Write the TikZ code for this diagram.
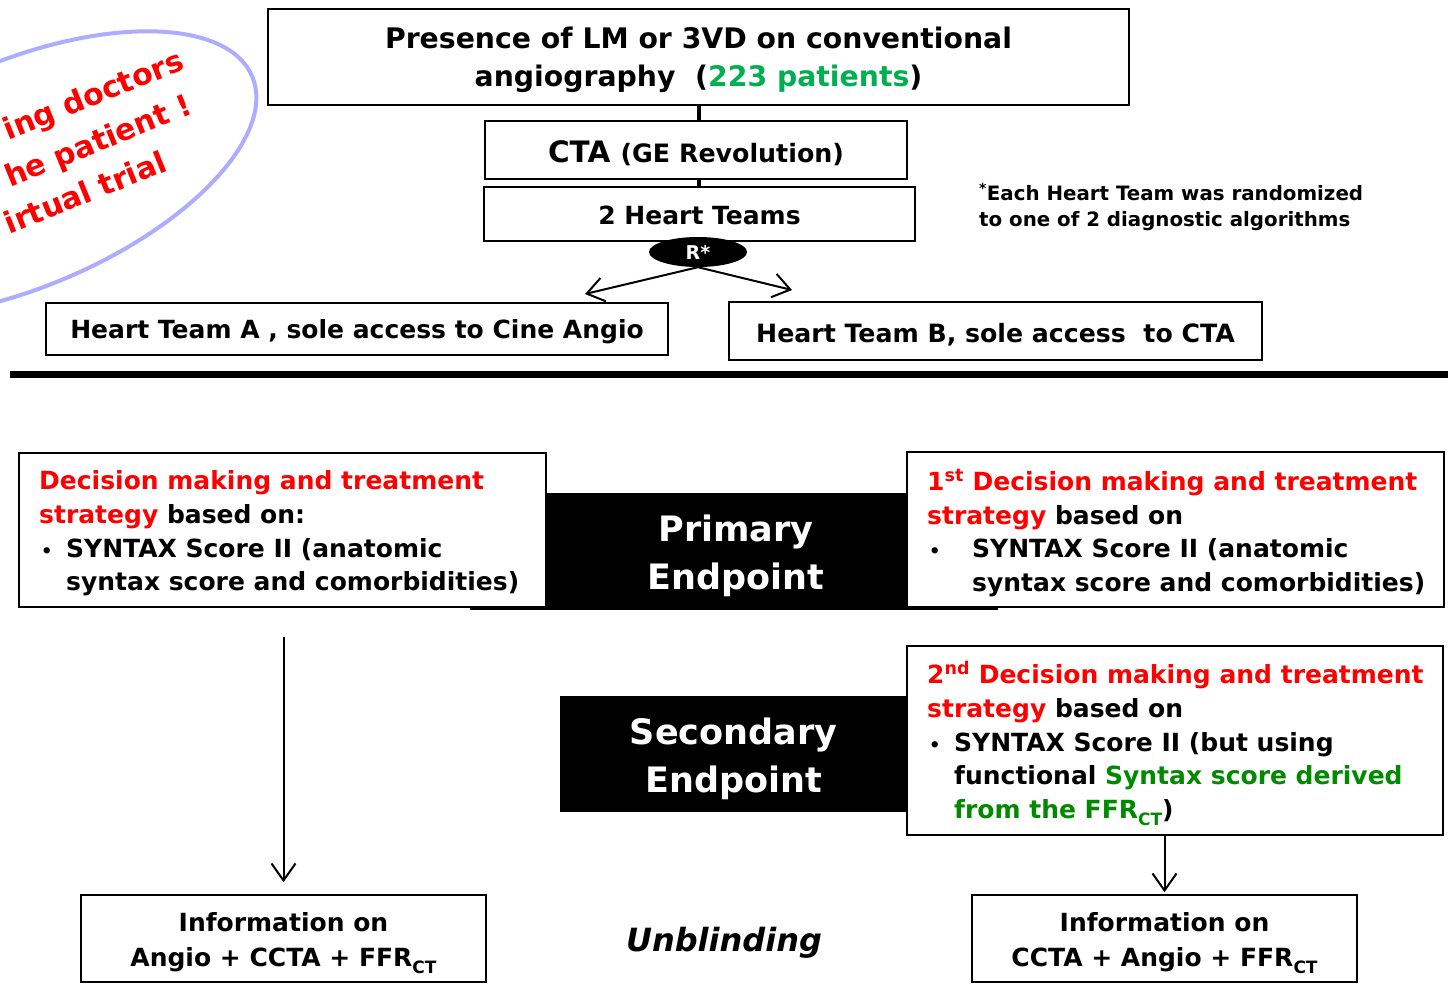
\documentclass[tikz,border=0pt]{standalone}
\usepackage{fontspec}
\setmainfont{DejaVu Sans}
\usetikzlibrary{arrows.meta,shapes.geometric}
\definecolor{myred}{HTML}{FF0000}
\definecolor{mygreenA}{HTML}{00B050}
\definecolor{mygreenB}{HTML}{008A00}
\definecolor{ellblue}{HTML}{ADADFF}
\newcommand{\subct}{\raisebox{-0.28em}{\fontsize{17}{17}\selectfont CT}}
\newcommand{\smbul}{{\fontsize{18}{18}\selectfont •}}
\begin{document}
\begin{tikzpicture}[x=1pt,y=-1pt,
  plainbox/.style={draw=black,line width=1.6pt,fill=white,inner sep=0pt},
  txt/.style={inner sep=0pt,align=center,font=\bfseries\fontsize{25}{34}\selectfont},
  dtext/.style={anchor=west,align=left,inner sep=0pt,font=\bfseries\fontsize{25}{33.7}\selectfont},
  blackbox/.style={fill=black,inner sep=0pt},
  wtxt/.style={inner sep=0pt,align=center,text=white,font=\bfseries\fontsize{35}{48.5}\selectfont},
  arr/.style={line width=2pt,-{Straight Barb[length=17pt,width=24pt,line width=2pt]}},
  redtxt/.style={rotate=22,text=myred,inner sep=0pt,font=\bfseries\fontsize{30}{30}\selectfont}]
\useasboundingbox (0,0) rectangle (1448,988);
\fill[white] (0,0) rectangle (1448,988);

% ---- tilted callout (clipped at left edge)
\begin{scope}
\clip (0,0) rectangle (1448,988);
\draw[ellblue,line width=4pt,rotate around={23:(22,174)}] (22,174) ellipse [x radius=250pt, y radius=113pt];
\node[redtxt] (e1) at (94,97) {ing doctors};
\node[redtxt] (e2) at (99,143) {he patient !};
\node[redtxt] (e3) at (85,192) {irtual trial};
\end{scope}

% ---- top flow
\node[plainbox,minimum width=861,minimum height=96] (top) at (698.5,57) {};
\node[txt,font=\bfseries\fontsize{28.3}{38}\selectfont] (topt) at ([yshift=-2.5pt]top.center)
  {Presence of LM or 3VD on conventional\\angiography\ \ ({\color{mygreenA}223 patients})};
\node[plainbox,minimum width=422,minimum height=58] (cta) at (696,150) {};
\node[txt] (ctat) at ([yshift=-3pt]cta.center)
  {\fontsize{29.5}{34}\selectfont CTA \fontsize{25.3}{30}\selectfont(GE Revolution)};
\node[plainbox,minimum width=431,minimum height=54] (ht) at (699.5,214) {};
\node[txt] (htt) at ([yshift=-1pt]ht.center) {2 Heart Teams};
\draw[line width=4pt] (top.south) -- (top.south |- cta.north);
\draw[line width=4pt] (top.south |- cta.south) -- (top.south |- ht.north);
\node[ellipse,fill=black,minimum width=98,minimum height=30,inner sep=0pt,text=white,
  font=\bfseries\fontsize{19}{20}\selectfont] (r) at (698,252) {R*};
\node[plainbox,minimum width=622,minimum height=52] (ta) at (357,329) {};
\node[txt] (tat) at ([yshift=-3pt]ta.center) {Heart Team A , sole access to Cine Angio};
\node[plainbox,minimum width=533,minimum height=58] (tb) at (995.5,331) {};
\node[txt,font=\bfseries\fontsize{25.2}{34}\selectfont] (tbt) at ([yshift=-3.5pt]tb.center) {Heart Team B, sole access\ \ to CTA};
\coordinate (aL) at (585,294);
\coordinate (aR) at (792,290);
\draw[arr] (r.south) -- (aL);
\draw[arr] (r.south) -- (aR);

\node[anchor=west,align=left,inner sep=0pt,font=\bfseries\fontsize{19.8}{26}\selectfont] (fn) at (979,207)
  {\textsuperscript{*}Each Heart Team was randomized\\to one of 2 diagnostic algorithms};

% ---- divider
\coordinate (dL) at (10,374.5);
\coordinate (dR) at (1448,374.5);
\draw[line width=7pt] (dL) -- (dR);

% ---- primary endpoint
\node[blackbox,minimum width=528,minimum height=117] (pe) at (734,551.5) {};
\node[wtxt] (pet) at (736,556) {Primary\\Endpoint};
\node[plainbox,minimum width=527,minimum height=154] (dl) at (282.5,530) {};
\node[dtext] (dlt) at (39,533.5)
  {{\color{myred}Decision making and treatment}\\
   {\color{myred}strategy} based on:\\
   \makebox[27pt][l]{\hspace{2pt}\smbul}SYNTAX Score II (anatomic\\
   \hspace*{27pt}syntax score and comorbidities)};
\node[plainbox,minimum width=537,minimum height=155] (dr1) at (1175.5,529.5) {};
\node[dtext] (dr1t) at (927,533)
  {{\color{myred}1\textsuperscript{st} Decision making and treatment}\\
   {\color{myred}strategy} based on\\
   \makebox[45pt][l]{\hspace{2pt}\smbul}SYNTAX Score II (anatomic\\
   \hspace*{45pt}syntax score and comorbidities)};

% ---- secondary endpoint
\node[blackbox,minimum width=347,minimum height=116] (se) at (733.5,754) {};
\node[wtxt,font=\bfseries\fontsize{35}{47.5}\selectfont] (set) at (733.5,759) {Secondary\\Endpoint};
\node[plainbox,minimum width=536,minimum height=189] (dr2) at (1175,740.5) {};
\node[dtext] (dr2t) at (927,743.5)
  {{\color{myred}2\textsuperscript{nd} Decision making and treatment}\\
   {\color{myred}strategy} based on\\
   \makebox[27pt][l]{\hspace{2pt}\smbul}SYNTAX Score II (but using\\
   \hspace*{27pt}functional {\color{mygreenB}Syntax score derived}\\
   \hspace*{27pt}{\color{mygreenB}from the FFR\subct})};

% ---- bottom
\node[plainbox,minimum width=405,minimum height=87] (ia) at (283.5,938.5) {};
\node[txt,font=\bfseries\fontsize{25}{35}\selectfont] (iat) at ([yshift=-4.5pt]ia.center)
  {Information on\\Angio + CCTA + FFR\subct};
\node[plainbox,minimum width=385,minimum height=87] (ib) at (1164.5,938.5) {};
\node[txt,font=\bfseries\fontsize{25}{35}\selectfont] (ibt) at ([yshift=-4.5pt]ib.center)
  {Information on\\CCTA + Angio + FFR\subct};
\node[font=\bfseries\itshape\fontsize{32}{36}\selectfont,inner sep=0pt] (ub) at (724,943) {Unblinding};
\coordinate (la) at (283.5,637);
\draw[arr] (la) -- ([yshift=12pt]ia.north);
\draw[arr] (ib.north |- dr2.south) -- ([yshift=2pt]ib.north);
\end{tikzpicture}
\end{document}
